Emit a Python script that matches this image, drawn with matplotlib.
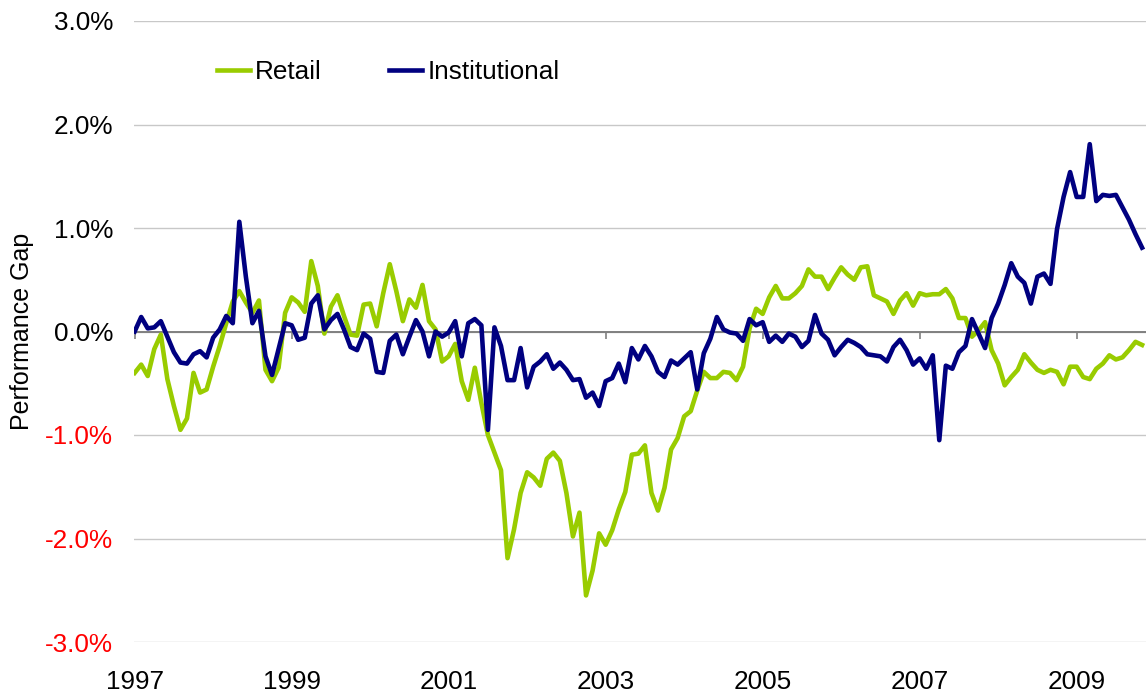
import numpy as np
import matplotlib
matplotlib.use("Agg")
import matplotlib.pyplot as plt
from matplotlib.ticker import FixedLocator, FuncFormatter

plt.rcParams['font.family'] = ['Liberation Sans', 'DejaVu Sans']

# monthly performance gap (%), Jan 1997 onwards
retail = [
    -0.40, -0.32, -0.43, -0.17, -0.03, -0.46, -0.72, -0.95, -0.84, -0.40, -0.59, -0.56,
    -0.34, -0.14, 0.08, 0.29, 0.39, 0.28, 0.18, 0.30, -0.37, -0.48, -0.35, 0.18,
    0.33, 0.28, 0.19, 0.68, 0.44, -0.02, 0.24, 0.35, 0.15, -0.03, -0.04, 0.26,
    0.27, 0.05, 0.37, 0.65, 0.39, 0.10, 0.31, 0.23, 0.45, 0.10, 0.02, -0.29,
    -0.24, -0.12, -0.48, -0.66, -0.35, -0.69, -1.00, -1.17, -1.34, -2.19, -1.91, -1.56,
    -1.36, -1.41, -1.49, -1.23, -1.17, -1.25, -1.56, -1.98, -1.75, -2.55, -2.31, -1.95,
    -2.06, -1.92, -1.72, -1.55, -1.19, -1.18, -1.10, -1.56, -1.73, -1.51, -1.14, -1.03,
    -0.82, -0.77, -0.57, -0.39, -0.45, -0.45, -0.39, -0.40, -0.47, -0.34, 0.03, 0.22,
    0.17, 0.33, 0.44, 0.32, 0.32, 0.37, 0.44, 0.60, 0.53, 0.53, 0.41, 0.52,
    0.62, 0.55, 0.50, 0.62, 0.63, 0.35, 0.32, 0.29, 0.17, 0.30, 0.37, 0.25,
    0.37, 0.35, 0.36, 0.36, 0.41, 0.32, 0.13, 0.13, -0.05, 0.01, 0.09, -0.18,
    -0.31, -0.52, -0.44, -0.37, -0.22, -0.30, -0.37, -0.40, -0.37, -0.39, -0.51, -0.34,
    -0.34, -0.44, -0.46, -0.36, -0.31, -0.23, -0.27, -0.25, -0.18, -0.10, -0.13,
]
institutional = [
    0.00, 0.14, 0.03, 0.04, 0.10, -0.05, -0.20, -0.30, -0.31, -0.22, -0.19, -0.25,
    -0.06, 0.02, 0.15, 0.08, 1.06, 0.53, 0.08, 0.20, -0.24, -0.42, -0.17, 0.08,
    0.06, -0.08, -0.06, 0.27, 0.35, 0.02, 0.11, 0.17, 0.02, -0.15, -0.18, -0.02,
    -0.07, -0.39, -0.40, -0.09, -0.03, -0.22, -0.05, 0.11, 0.00, -0.24, 0.00, -0.05,
    -0.01, 0.10, -0.24, 0.08, 0.12, 0.06, -0.95, 0.04, -0.14, -0.47, -0.47, -0.16,
    -0.54, -0.34, -0.29, -0.22, -0.36, -0.30, -0.37, -0.47, -0.46, -0.64, -0.59, -0.72,
    -0.48, -0.45, -0.31, -0.49, -0.16, -0.27, -0.14, -0.24, -0.39, -0.44, -0.28, -0.32,
    -0.26, -0.20, -0.56, -0.21, -0.07, 0.14, 0.02, -0.01, -0.02, -0.09, 0.12, 0.06,
    0.09, -0.10, -0.04, -0.10, -0.02, -0.05, -0.15, -0.09, 0.16, -0.02, -0.08, -0.23,
    -0.15, -0.08, -0.11, -0.15, -0.22, -0.23, -0.24, -0.29, -0.15, -0.08, -0.18, -0.32,
    -0.26, -0.36, -0.23, -1.05, -0.33, -0.36, -0.20, -0.14, 0.12, -0.02, -0.16, 0.13,
    0.27, 0.45, 0.66, 0.53, 0.47, 0.27, 0.53, 0.56, 0.46, 0.99, 1.30, 1.54,
    1.30, 1.30, 1.81, 1.26, 1.32, 1.31, 1.32, 1.20, 1.08, 0.94, 0.81,
]
year_labels = ['1997', '1999', '2001', '2003', '2005', '2007', '2009']
y_ticks = [-3, -2, -1, 0, 1, 2, 3]

months = np.arange(len(retail))
year_ticks = [24 * k for k in range(len(year_labels))]

fig = plt.figure(figsize=(11.46, 6.95), dpi=100)
ax = fig.add_axes([134 / 1146, 1 - 642 / 695, 1012 / 1146, 621 / 695])

for s in ax.spines.values():
    s.set_visible(False)

ax.set_ylim(-3, 3)
ax.set_xlim(-0.1, 154.6)

ax.yaxis.set_major_locator(FixedLocator(y_ticks))
ax.yaxis.set_major_formatter(FuncFormatter(lambda v, p: '%.1f%%' % v))
ax.grid(axis='y', color='#c8c8c8', lw=1.0)
ax.set_axisbelow(True)
ax.axhline(0, color='#808080', lw=1.4, zorder=1.5)
ax.vlines(year_ticks, -0.075, 0, color='#808080', lw=1.2, zorder=1.5)

ax.set_xticks(year_ticks)
ax.set_xticklabels(year_labels)
ax.tick_params(axis='x', length=0, pad=20, labelsize=18.8)
ax.tick_params(axis='y', length=0, pad=15, labelsize=18.8)
for lab, v in zip(ax.get_yticklabels(), y_ticks):
    lab.set_color('red' if v < 0 else 'black')

ax.plot(months, retail, color='#99cc00', lw=3.3, label='Retail', zorder=3)
ax.plot(months, institutional, color='#000080', lw=3.3, label='Institutional', zorder=4)

ax.set_ylabel('Performance Gap', fontsize=18)
ax.yaxis.set_label_coords(-0.099, 0.5)

ax.legend(loc='center left', bbox_to_anchor=(0.082, 0.918), ncol=2, frameon=False,
          fontsize=18.8, handlelength=1.25, handletextpad=0.2, columnspacing=2.6,
          borderpad=0, borderaxespad=0)

fig.savefig('out.png', dpi=100)
